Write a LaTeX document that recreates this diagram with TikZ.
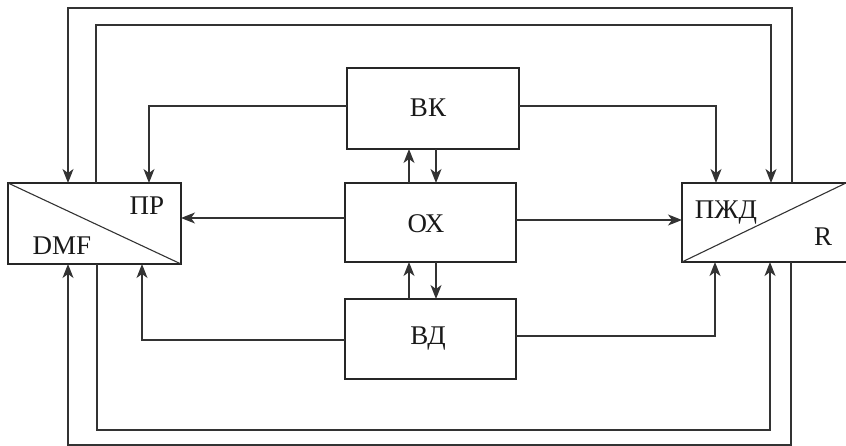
\documentclass[tikz,border=0pt]{standalone}
\usepackage{fontspec}
\setmainfont{Liberation Serif}
\usetikzlibrary{arrows.meta}
\begin{document}
\begin{tikzpicture}[x=1pt,y=-1pt,
  box/.style={draw=black!85,line width=1.4pt,rectangle,inner sep=0pt,outer sep=0pt},
  lbl/.style={font=\fontsize{27}{30}\selectfont,inner sep=0pt,text=black!90},
  link/.style={draw=black!80,line width=1.3pt},
  arr/.style={link,-{Stealth[length=14pt,width=11pt,inset=4pt]}},
  diag/.style={draw=black!80,line width=1.1pt}]
\useasboundingbox (0,0) rectangle (846,446);
\clip (0,0) rectangle (846,446);
% boxes
\node[box,minimum width=173pt,minimum height=81pt] (L) at (94.5,223.5) {};
\node[box,minimum width=170pt,minimum height=79pt] (R) at (767,222.5) {};
\node[box,minimum width=172pt,minimum height=81pt] (VK) at (433,108.5) {};
\node[box,minimum width=171pt,minimum height=79pt] (OX) at (430.5,222.5) {};
\node[box,minimum width=171pt,minimum height=80pt] (VD) at (430.5,339) {};
% diagonals
\draw[diag] (L.north west) -- (L.south east);
\draw[diag] (R.south west) -- ([xshift=-6pt]R.north east);
% labels
\node[lbl] (tPR) at (147,206) {ПР};
\node[lbl] (tDMF) at (62,246) {DMF};
\node[lbl] (tPZD) at (726,213) {ПЖД};
\node[lbl] (tR) at (823,237) {R};
\node[lbl] (tVK) at (428,108) {ВК};
\node[lbl] (tOX) at (426,224) {ОХ};
\node[lbl] (tVD) at (428,339) {ВД};
% helper coordinates
\coordinate (tl1) at (68,8);
\coordinate (tr1) at (792,8);
\coordinate (tl2) at (96,25);
\coordinate (tr2) at (771,25);
\coordinate (bl1) at (97,430);
\coordinate (br1) at (770,430);
\coordinate (bl2) at (68,445);
\coordinate (br2) at (791,445);
\coordinate (vkl) at (149,106);
\coordinate (vkr) at (716,106);
\coordinate (vdl) at (142,340);
\coordinate (vdr) at (715,336);
\coordinate (oxl) at (0,218);
\coordinate (oxr) at (0,220);
\coordinate (up) at (409,0);
\coordinate (dn) at (436,0);
% connectors
\draw[arr] (R.north -| tr1) |- (tl1) -- (L.north -| tl1);
\draw[arr] (L.north -| tl2) |- (tr2) -- (R.north -| tr2);
\draw[arr] (VK.west |- vkl) -| (L.north -| vkl);
\draw[arr] (VK.east |- vkr) -| (R.north -| vkr);
\draw[arr] (OX.west |- oxl) -- (L.east |- oxl);
\draw[arr] (OX.east |- oxr) -- (R.west |- oxr);
\draw[arr] (OX.north -| up) -- (VK.south -| up);
\draw[arr] (VK.south -| dn) -- (OX.north -| dn);
\draw[arr] (VD.north -| up) -- (OX.south -| up);
\draw[arr] (OX.south -| dn) -- (VD.north -| dn);
\draw[arr] (VD.west |- vdl) -| (L.south -| vdl);
\draw[arr] (VD.east |- vdr) -| (R.south -| vdr);
\draw[arr] (L.south -| bl1) |- (br1) -- (R.south -| br1);
\draw[arr] (R.south -| br2) |- (bl2) -- (L.south -| bl2);
\end{tikzpicture}
\end{document}
